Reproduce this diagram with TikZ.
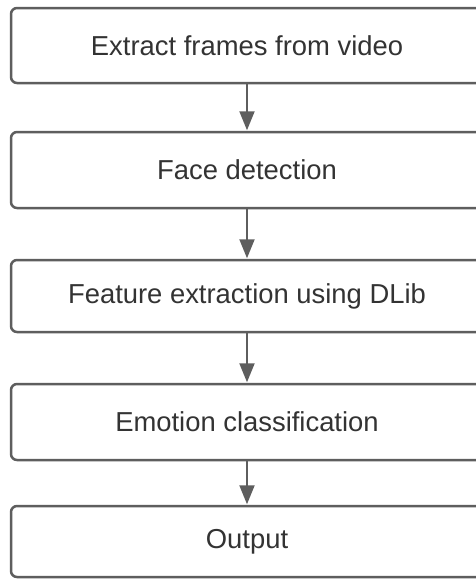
\documentclass[tikz,border=0pt]{standalone}
\usepackage{fontspec}
\setmainfont{Liberation Sans}
\usetikzlibrary{arrows.meta}
\definecolor{edgegray}{HTML}{5E5E5E}
\definecolor{textgray}{HTML}{333333}
\tikzset{
  stepbox/.style={draw=edgegray, line width=2.5pt, rounded corners=6pt,
    fill=white, minimum width=472pt, inner sep=0pt,
    text=textgray, font=\fontsize{27.4}{32}\selectfont},
  flow/.style={draw=edgegray, line width=2pt,
    -{Triangle[width=15pt,length=19pt]}, shorten >=0.5pt}
}
\begin{document}
\begin{tikzpicture}[x=1pt,y=1pt]
  \useasboundingbox (0,0) rectangle (476,-579);
  \fill[white] (0,0) rectangle (476,-579);
  \node[stepbox, minimum height=75pt] (b1) at (247,-45.5) {Extract frames from video};
  \node[stepbox, minimum height=76pt] (b2) at (247,-170)  {Face detection};
  \node[stepbox, minimum height=72pt] (b3) at (247,-296)  {Feature extraction using DLib};
  \node[stepbox, minimum height=76pt] (b4) at (247,-422)  {Emotion classification};
  \node[stepbox, minimum height=71pt] (b5) at (247,-541.5) {Output};
  \draw[flow] (b1.south) -- (b2.north);
  \draw[flow] (b2.south) -- (b3.north);
  \draw[flow] (b3.south) -- (b4.north);
  \draw[flow] (b4.south) -- (b5.north);
\end{tikzpicture}
\end{document}
